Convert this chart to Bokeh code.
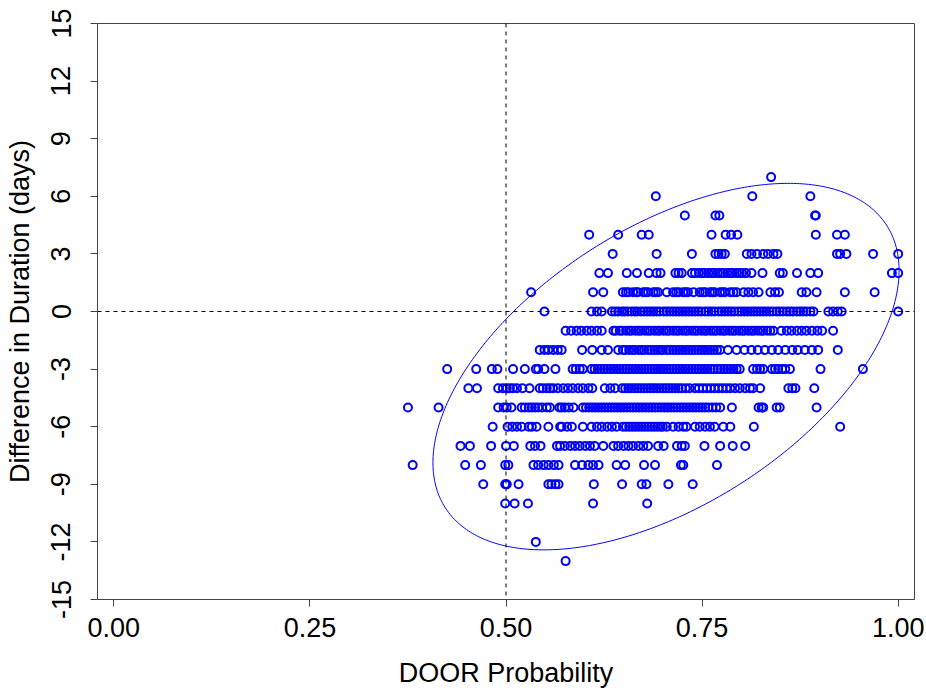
import numpy as np
from bokeh.plotting import figure
from bokeh.models import FixedTicker, Span, Range1d
from bokeh.embed import file_html
from bokeh.resources import INLINE

# ---- data: DOOR probability (x) for each integer difference in duration (y) ----
x_p7 = [0.838]
x_p6 = [0.691, 0.814, 0.888]
x_p5 = [0.728, 0.767, 0.772, 0.894, 0.895]
x_p4 = [0.606, 0.643, 0.673, 0.682, 0.762, 0.780, 0.787, 0.795, 0.895, 0.922, 0.932]
x_p3 = [0.636, 0.692, 0.737, 0.767, 0.771, 0.775, 0.779, 0.807, 0.813, 0.820,
        0.828, 0.834, 0.841, 0.846, 0.922, 0.926, 0.934, 0.968, 1.000]
x_p2 = [0.619, 0.630, 0.654, 0.667, 0.682, 0.692, 0.697, 0.716, 0.720, 0.724,
        0.737, 0.741, 0.746, 0.750, 0.753, 0.758, 0.762, 0.765, 0.770, 0.774,
        0.777, 0.782, 0.786, 0.789, 0.794, 0.798, 0.801, 0.806, 0.813, 0.827,
        0.849, 0.853, 0.871, 0.888, 0.898, 0.992, 1.000]
x_p1 = [0.532, 0.611, 0.624, 0.649, 0.653, 0.656, 0.662, 0.666, 0.668, 0.675,
        0.678, 0.681, 0.688, 0.691, 0.694, 0.705, 0.713, 0.717, 0.720, 0.726,
        0.729, 0.732, 0.739, 0.747, 0.751, 0.754, 0.760, 0.763, 0.766, 0.773,
        0.776, 0.779, 0.786, 0.790, 0.794, 0.803, 0.809, 0.815, 0.822, 0.837,
        0.843, 0.848, 0.877, 0.883, 0.896, 0.932, 0.970]
x_0 = [0.549, 0.609, 0.616, 0.622, 0.635, 0.639, 0.643, 0.648, 0.651, 0.655,
       0.660, 0.664, 0.667, 0.672, 0.676, 0.680, 0.684, 0.688, 0.692, 0.696,
       0.701, 0.705, 0.709, 0.713, 0.717, 0.721, 0.725, 0.729, 0.733, 0.737,
       0.741, 0.745, 0.749, 0.754, 0.758, 0.762, 0.766, 0.771, 0.775, 0.779,
       0.783, 0.787, 0.791, 0.796, 0.800, 0.804, 0.808, 0.812, 0.816, 0.820,
       0.824, 0.828, 0.832, 0.836, 0.840, 0.845, 0.849, 0.853, 0.858, 0.862,
       0.866, 0.871, 0.875, 0.879, 0.883, 0.888, 0.892, 0.911, 0.917, 0.923,
       0.928, 1.000]
x_m1 = [0.576, 0.583, 0.590, 0.596, 0.603, 0.609, 0.616, 0.622, 0.637, 0.640,
        0.645, 0.648, 0.653, 0.657, 0.660, 0.665, 0.669, 0.672, 0.677, 0.681,
        0.684, 0.689, 0.693, 0.696, 0.701, 0.705, 0.708, 0.713, 0.717, 0.720,
        0.725, 0.729, 0.732, 0.737, 0.741, 0.744, 0.749, 0.753, 0.756, 0.761,
        0.765, 0.768, 0.773, 0.777, 0.780, 0.785, 0.789, 0.792, 0.797, 0.801,
        0.804, 0.809, 0.813, 0.816, 0.821, 0.825, 0.828, 0.833, 0.837, 0.841,
        0.851, 0.858, 0.864, 0.871, 0.877, 0.883, 0.890, 0.897, 0.903, 0.917]
x_m2 = [0.543, 0.549, 0.554, 0.560, 0.566, 0.571, 0.597, 0.610, 0.622, 0.630,
        0.643, 0.649, 0.652, 0.657, 0.661, 0.664, 0.669, 0.673, 0.676, 0.681,
        0.685, 0.689, 0.693, 0.697, 0.700, 0.705, 0.709, 0.713, 0.717, 0.721,
        0.725, 0.729, 0.733, 0.737, 0.741, 0.745, 0.749, 0.753, 0.757, 0.761,
        0.765, 0.769, 0.773, 0.783, 0.794, 0.804, 0.813, 0.821, 0.830, 0.839,
        0.847, 0.856, 0.865, 0.872, 0.881, 0.890, 0.898, 0.923]
x_m3 = [0.425, 0.462, 0.482, 0.489, 0.509, 0.524, 0.538, 0.541, 0.549, 0.563,
        0.585, 0.589, 0.594, 0.598, 0.609, 0.613, 0.617, 0.621, 0.625, 0.629,
        0.633, 0.637, 0.641, 0.645, 0.649, 0.653, 0.657, 0.661, 0.665, 0.669,
        0.673, 0.677, 0.681, 0.685, 0.689, 0.693, 0.697, 0.701, 0.705, 0.709,
        0.713, 0.717, 0.721, 0.725, 0.729, 0.733, 0.737, 0.741, 0.745, 0.749,
        0.753, 0.757, 0.761, 0.765, 0.770, 0.774, 0.778, 0.782, 0.786, 0.790,
        0.794, 0.798, 0.815, 0.820, 0.824, 0.828, 0.839, 0.843, 0.847, 0.852,
        0.856, 0.862, 0.901, 0.955]
x_m4 = [0.452, 0.463, 0.490, 0.496, 0.501, 0.505, 0.509, 0.514, 0.521, 0.530,
        0.543, 0.547, 0.552, 0.556, 0.560, 0.566, 0.573, 0.579, 0.585, 0.592,
        0.598, 0.605, 0.610, 0.626, 0.633, 0.639, 0.648, 0.652, 0.656, 0.660,
        0.664, 0.668, 0.672, 0.676, 0.680, 0.684, 0.688, 0.692, 0.696, 0.700,
        0.704, 0.708, 0.712, 0.716, 0.720, 0.724, 0.729, 0.734, 0.741, 0.746,
        0.751, 0.756, 0.761, 0.766, 0.771, 0.776, 0.781, 0.786, 0.792, 0.798,
        0.805, 0.811, 0.815, 0.824, 0.860, 0.865, 0.869, 0.893]
x_m5 = [0.375, 0.414, 0.490, 0.497, 0.501, 0.507, 0.520, 0.524, 0.529, 0.533,
        0.537, 0.541, 0.546, 0.552, 0.556, 0.568, 0.571, 0.575, 0.580, 0.586,
        0.598, 0.602, 0.606, 0.610, 0.614, 0.618, 0.622, 0.626, 0.630, 0.634,
        0.638, 0.642, 0.646, 0.650, 0.654, 0.658, 0.662, 0.666, 0.670, 0.674,
        0.678, 0.682, 0.686, 0.690, 0.694, 0.698, 0.702, 0.706, 0.710, 0.714,
        0.718, 0.722, 0.726, 0.730, 0.734, 0.738, 0.742, 0.746, 0.750, 0.754,
        0.758, 0.763, 0.768, 0.773, 0.788, 0.822, 0.826, 0.828, 0.845, 0.849,
        0.896]
x_m6 = [0.483, 0.502, 0.508, 0.514, 0.520, 0.529, 0.533, 0.539, 0.554, 0.569,
        0.571, 0.578, 0.584, 0.598, 0.609, 0.616, 0.622, 0.629, 0.635, 0.641,
        0.649, 0.653, 0.657, 0.661, 0.665, 0.669, 0.673, 0.677, 0.681, 0.685,
        0.689, 0.693, 0.697, 0.700, 0.705, 0.713, 0.720, 0.726, 0.730, 0.741,
        0.747, 0.754, 0.760, 0.766, 0.777, 0.786, 0.816, 0.926]
x_m7 = [0.442, 0.454, 0.481, 0.500, 0.510, 0.531, 0.537, 0.544, 0.565, 0.569,
        0.575, 0.582, 0.588, 0.594, 0.601, 0.607, 0.613, 0.624, 0.637, 0.643,
        0.650, 0.656, 0.662, 0.669, 0.675, 0.681, 0.694, 0.701, 0.718, 0.724,
        0.728, 0.753, 0.773, 0.789, 0.805]
x_m8 = [0.381, 0.448, 0.468, 0.499, 0.503, 0.535, 0.541, 0.548, 0.554, 0.561,
        0.567, 0.588, 0.597, 0.605, 0.611, 0.618, 0.641, 0.652, 0.676, 0.690,
        0.723, 0.726, 0.769]
x_m9 = [0.471, 0.499, 0.501, 0.516, 0.554, 0.558, 0.563, 0.567, 0.612, 0.648,
        0.673, 0.679, 0.707, 0.738]
x_m10 = [0.499, 0.511, 0.528, 0.611, 0.680]
x_m12 = [0.538]
x_m13 = [0.576]

rows = [(7, x_p7), (6, x_p6), (5, x_p5), (4, x_p4), (3, x_p3), (2, x_p2),
        (1, x_p1), (0, x_0), (-1, x_m1), (-2, x_m2), (-3, x_m3), (-4, x_m4),
        (-5, x_m5), (-6, x_m6), (-7, x_m7), (-8, x_m8), (-9, x_m9),
        (-10, x_m10), (-12, x_m12), (-13, x_m13)]

x_ticks = [0.0, 0.25, 0.5, 0.75, 1.0]
x_tick_labels = ["0.00", "0.25", "0.50", "0.75", "1.00"]
y_ticks = [-15, -12, -9, -6, -3, 0, 3, 6, 9, 12, 15]
y_tick_labels = ["-15", "-12", "-9", "-6", "-3", "0", "3", "6", "9", "12", "15"]

# ellipse parameters (centre and shape matrix, data units)
ell_cx = 0.704
ell_cy = -2.87
ell_sxx = 0.0883
ell_syy = 91.1
ell_sxy = 1.488

xs = []
ys = []
for yv, xl in rows:
    xs.extend(xl)
    ys.extend([yv] * len(xl))

FONT = "Liberation Sans"
BLUE = "#0000FF"

p = figure(width=926, height=692, x_range=Range1d(-0.0208, 1.0208),
           y_range=Range1d(-15, 15), output_backend="svg", toolbar_location=None,
           min_border_left=97, min_border_right=12, min_border_top=23,
           min_border_bottom=93)
p.xgrid.visible = False
p.ygrid.visible = False
p.outline_line_color = "#444444"
p.outline_line_width = 1
p.background_fill_color = "white"
p.border_fill_color = "white"

for ax in (p.xaxis[0], p.yaxis[0]):
    ax.axis_line_color = "#444444"
    ax.major_tick_line_color = "#444444"
    ax.major_tick_out = 7
    ax.major_tick_in = 0
    ax.minor_tick_line_color = None
    ax.major_label_text_font = FONT
    ax.major_label_text_font_size = "27px"
    ax.major_label_text_color = "black"
    ax.axis_label_text_font = FONT
    ax.axis_label_text_font_size = "27px"
    ax.axis_label_text_font_style = "normal"
    ax.axis_label_text_color = "black"

p.xaxis.ticker = FixedTicker(ticks=x_ticks)
p.xaxis.major_label_overrides = dict(zip(x_ticks, x_tick_labels))
p.xaxis.axis_label = "DOOR Probability"
p.xaxis.major_label_standoff = 11
p.xaxis.axis_label_standoff = 18

p.yaxis.ticker = FixedTicker(ticks=y_ticks)
p.yaxis.major_label_overrides = dict(zip(y_ticks, y_tick_labels))
p.yaxis.major_label_orientation = "parallel"
p.yaxis.axis_label = "Difference in Duration (days)"
p.yaxis.major_label_standoff = 20
p.yaxis.axis_label_standoff = 14

p.add_layout(Span(location=0.5, dimension="height", line_color="black",
                  line_width=1, line_dash="4 4"))
p.add_layout(Span(location=0, dimension="width", line_color="black",
                  line_width=1, line_dash="4 4"))

# ellipse outline derived from its parameters
S = np.array([[ell_sxx, ell_sxy], [ell_sxy, ell_syy]])
L = np.linalg.cholesky(S)
t = np.linspace(0, 2 * np.pi, 400)
pts = L @ np.vstack([np.cos(t), np.sin(t)])
p.line(ell_cx + pts[0], ell_cy + pts[1], line_color=BLUE, line_width=1)

p.scatter(xs, ys, marker="circle", size=8, fill_color=None, line_color=BLUE,
          line_width=2)

open("out.html", "w").write(file_html(p, INLINE))
